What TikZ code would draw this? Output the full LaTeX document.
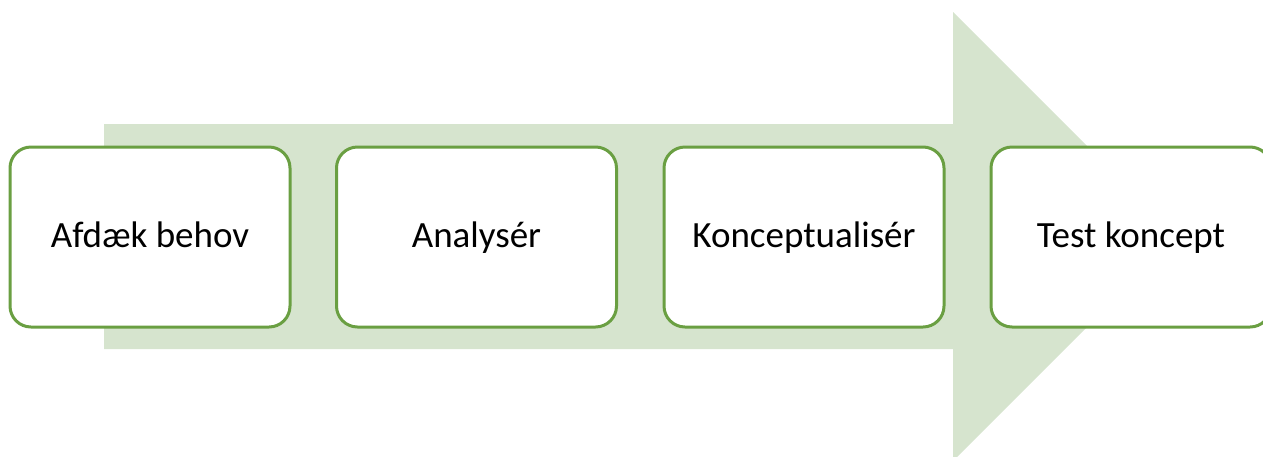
\documentclass[tikz,border=0pt]{standalone}
\usepackage{fontspec}
\setmainfont{Carlito}
\definecolor{arrowfill}{HTML}{D6E4CE}
\definecolor{boxline}{HTML}{6A9F42}
\begin{document}
\begin{tikzpicture}[x=1pt,y=-1pt,
  stepbox/.style={draw=boxline, line width=3pt, fill=white, rounded corners=21pt,
    minimum width=280pt, minimum height=180pt, inner sep=0pt, text height=24pt, text depth=4pt,
    font=\fontsize{37}{44}\selectfont, text=black}]
\useasboundingbox (0,0) rectangle (1263,456);
\begin{scope}
\clip (0,0) rectangle (1263,456);
\fill[arrowfill] (104,124) -- (953,124) -- (953,12) -- (1177.5,236.5) -- (953,461) -- (953,349) -- (104,349) -- cycle;
\node[stepbox] (s1) at (150,237) {Afdæk behov};
\node[stepbox] (s2) at (476.5,237) {Analysér};
\node[stepbox] (s3) at (804,237) {Konceptualisér};
\node[stepbox] (s4) at (1131,237) {Test koncept};
\end{scope}
\end{tikzpicture}
\end{document}
